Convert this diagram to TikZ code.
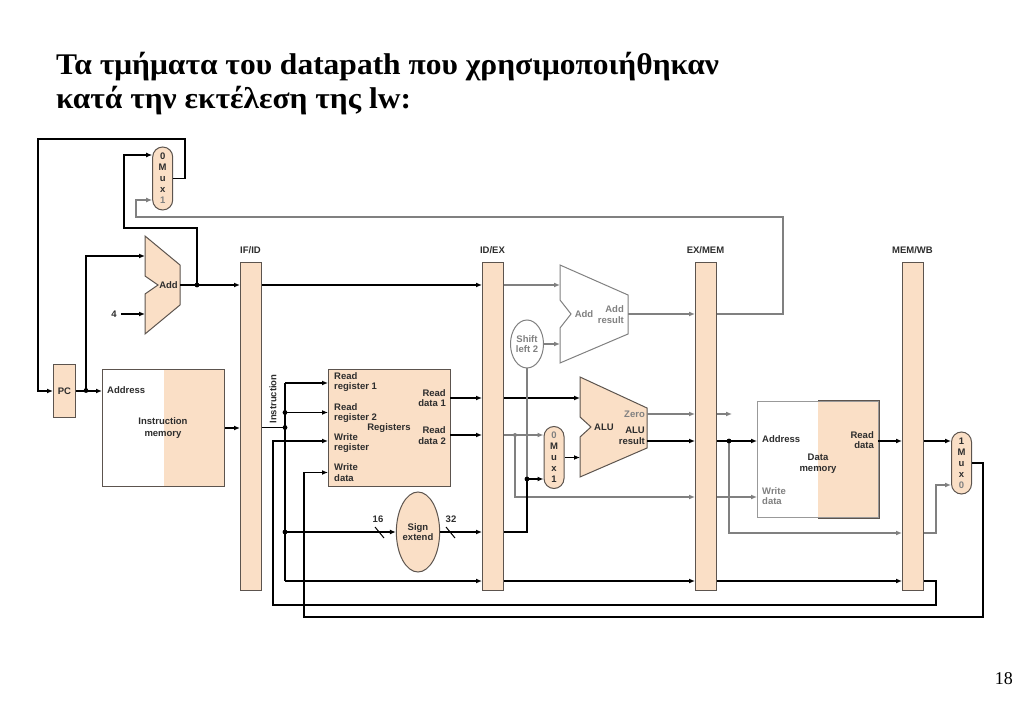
\documentclass[tikz,border=0pt]{standalone}
\usepackage{fontspec}
\setmainfont{Liberation Serif}
\newfontfamily\diagfont{Liberation Sans}
\usetikzlibrary{arrows.meta,shapes.geometric,calc}
\definecolor{peach}{RGB}{250,223,198}
\definecolor{edgec}{RGB}{92,84,78}
\definecolor{grayw}{RGB}{128,128,128}
\definecolor{txt}{RGB}{45,45,45}
\begin{document}
\begin{tikzpicture}[x=1pt,y=-1pt,
  font=\diagfont\bfseries\fontsize{9.5}{10.5}\selectfont,
  wire/.style={line width=1.8pt, black},
  gwire/.style={line width=1.4pt, grayw},
  arr/.style={-{Latex[length=6pt,width=5pt]}},
  lbl/.style={text=txt, inner sep=0pt},
  glbl/.style={text=grayw, inner sep=0pt},
  preg/.style={draw=edgec, fill=peach, line width=1pt, inner sep=0pt, anchor=north west, minimum width=21pt, minimum height=328pt},
  blk/.style={draw=edgec, fill=peach, line width=1pt, inner sep=0pt, text=txt},
  memblk/.style={draw=edgec, fill=white, line width=1pt, inner sep=0pt, anchor=north west,
    path picture={\fill[peach] (path picture bounding box.north) rectangle (path picture bounding box.south east);}},
  muxs/.style={draw=edgec, fill=peach, line width=1pt, rounded corners=10pt, minimum width=20pt, inner sep=0pt, align=center, text=txt, font=\diagfont\bfseries\fontsize{9.5}{11}\selectfont},
  titlef/.style={anchor=base west, inner sep=0pt, xscale=1.05, font=\rmfamily\bfseries\fontsize{30}{30}\selectfont},
  dot/.style={fill=black},
  gdot/.style={fill=grayw}
]
\useasboundingbox (0,0) rectangle (1023,708);

% ---------- title and page number ----------
\node[titlef] (t1) at (56,75) {Τα τμήματα του datapath που χρησιμοποιήθηκαν};
\node[titlef] (t2) at (56,108.5) {κατά την εκτέλεση της lw:};
\node[anchor=base east, inner sep=0pt, font=\rmfamily\fontsize{18}{18}\selectfont] (pg) at (1013,684) {18};

% ---------- pipeline registers ----------
\node[preg] (ifid) at (240,262) {};
\node[preg] (idex) at (482,262) {};
\node[preg] (exmem) at (695,262) {};
\node[preg] (memwb) at (902,262) {};
\node[lbl] (ifidl) at (250.5,250) {IF/ID};
\node[lbl] (idexl) at (492.5,250) {ID/EX};
\node[lbl] (exmeml) at (705.5,250) {EX/MEM};
\node[lbl] (memwbl) at (912.5,250) {MEM/WB};

% ---------- IF stage ----------
\node[blk, anchor=north west, minimum width=22pt, minimum height=53pt] (pc) at (53,364) {PC};
\node[memblk, minimum width=122pt, minimum height=117pt] (imem) at (102,369) {};
\node[lbl, anchor=west] (imaddr) at (107,390.5) {Address};
\node[lbl, align=center, font=\diagfont\bfseries\fontsize{9.5}{11.6}\selectfont] (imlab) at (163,428) {Instruction\\memory};

\node[muxs, minimum height=63pt] (pcmux) at (162.7,178.5) {0\\M\\u\\x\\\textcolor{grayw}{1}};

\draw[blk] (145,236) -- (180,265) -- (180,305) -- (145,334) -- (145,294) -- (158,285) -- (145,276) -- cycle;
\node[lbl] (addpc) at (168.5,285) {Add};
\coordinate (addpc-a) at (145,256);
\coordinate (addpc-b) at (145,314);
\coordinate (addpc-o) at (180,285);
\node[lbl] (four) at (114,314) {4};

% ---------- ID stage ----------
\node[blk, anchor=north west, minimum width=122pt, minimum height=117pt] (regs) at (328,369) {};
\node[lbl, anchor=west, align=left] (rr1l) at (334,382) {Read\\register 1};
\node[lbl, anchor=west, align=left] (rr2l) at (334,413) {Read\\register 2};
\node[lbl, anchor=west, align=left] (wrl) at (334,443) {Write\\register};
\node[lbl, anchor=west, align=left] (wdl) at (334,472.5) {Write\\data};
\node[lbl, anchor=east, align=right] (rd1l) at (446,398) {Read\\data 1};
\node[lbl, anchor=east, align=right] (rd2l) at (446,435.5) {Read\\data 2};
\node[lbl] (regsl) at (389,428) {Registers};
\node[lbl, rotate=90] (instrl) at (273,399) {Instruction};

\node[blk, ellipse, minimum width=40pt, minimum height=80pt, align=center] (sext) at (418,532) {Sign\\extend};
\node[lbl] (n16) at (378,519) {16};
\node[lbl] (n32) at (451,519) {32};

% ---------- EX stage ----------
\node[draw=grayw, fill=white, line width=1pt, ellipse, minimum width=33pt, minimum height=48pt, inner sep=0pt, align=center, text=grayw] (sl2) at (527,344) {Shift\\left 2};
\draw[draw=grayw, fill=white, line width=1pt] (560,265) -- (628,295) -- (628,334) -- (560,363) -- (560,328) -- (571,314) -- (560,300) -- cycle;
\node[glbl] (braddl) at (584,314) {Add};
\node[glbl, anchor=east, align=right] (brres) at (624,314.5) {Add\\result};
\coordinate (bra-a) at (560,285);
\coordinate (bra-b) at (560,344);
\coordinate (bra-o) at (628,314);

\node[muxs, minimum height=62pt] (alumux) at (554,457.5) {\textcolor{grayw}{0}\\M\\u\\x\\1};

\draw[blk] (580,377) -- (647,408) -- (647,448) -- (580,477) -- (580,437) -- (591,427) -- (580,417) -- cycle;
\node[lbl] (alul) at (604,427) {ALU};
\node[glbl, anchor=east] (zerol) at (645,414) {Zero};
\node[lbl, anchor=east, align=right] (alures) at (645,436) {ALU\\result};
\coordinate (alu-a) at (580,398);
\coordinate (alu-b) at (580,457.5);
\coordinate (alu-z) at (647,414);
\coordinate (alu-r) at (647,441);

% ---------- MEM stage ----------
\node[memblk, draw=grayw!80, minimum width=121pt, minimum height=116pt] (dmem) at (757,401) {};
\draw[edgec, line width=1pt] (dmem.north) -- (dmem.north east) -- (dmem.south east) -- (dmem.south);
\node[lbl, anchor=west] (dmaddr) at (762,439.5) {Address};
\node[lbl, anchor=east, align=right] (dmrdl) at (874,440) {Read\\data};
\node[lbl, align=center] (dml) at (818,463.5) {Data\\memory};
\node[glbl, anchor=west, align=left] (dmwd) at (762,496) {Write\\data};
\coordinate (dmrd) at (878,441);

% ---------- WB stage ----------
\node[muxs, minimum height=62pt] (wbmux) at (961.5,463) {1\\M\\u\\x\\\textcolor{grayw}{0}};

% ================= wires =================
% PC mux -> PC
\coordinate (c1) at (185,139);
\coordinate (c2) at (38,139);
\draw[wire,arr] (pcmux.east) -| (c1) -- (c2) |- (pc.west);
% PC -> instruction memory and adder
\coordinate (jpc) at (86,390.5);
\draw[wire,arr] (pc.east) -- (pc.east -| imem.west);
\draw[wire,arr] (jpc) |- (addpc-a);
\fill[dot] (jpc) circle (2.4pt);
\draw[wire,arr] ([xshift=4pt]four.east) -- (addpc-b);
% adder output
\coordinate (jadd) at (197,285);
\coordinate (c3) at (197,228);
\coordinate (c4) at (124,228);
\coordinate (c5) at (124,155);
\draw[wire,arr] (addpc-o) -- (addpc-o -| ifid.west);
\draw[wire,arr] (jadd) -- (c3) -- (c4) -- (c5) -- (c5 -| pcmux.west);
\fill[dot] (jadd) circle (2.4pt);
% branch target back to PC mux
\coordinate (c6) at (783,314);
\coordinate (c7) at (783,217);
\coordinate (c8) at (136,217);
\coordinate (c9) at (136,200);
\draw[gwire,arr] (exmem.east |- c6) -- (c6) -- (c7) -- (c8) -- (c9) -- (c9 -| pcmux.west);
% instruction memory -> IF/ID
\draw[wire,arr] (imem.east) -- (imem.east -| ifid.west);
% PC+4 -> ID/EX
\draw[wire,arr] (ifid.east |- jadd) -- (idex.west |- jadd);
% instruction distribution
\coordinate (jins) at (285,427.5);
\coordinate (rr1) at (285,383);
\coordinate (jrr2) at (285,412.5);
\coordinate (jse) at (285,532);
\coordinate (jbot) at (285,581);
\draw[wire] (ifid.east |- jins) -- (jins);
\draw[wire] (rr1) -- (jbot);
\draw[wire,arr] (rr1) -- (rr1 -| regs.west);
\draw[wire,arr] (jrr2) -- (jrr2 -| regs.west);
\draw[wire,arr] (jse) -- (sext.west);
\draw[wire,arr] (jbot) -- (jbot -| idex.west);
\fill[dot] (jrr2) circle (2.4pt);
\fill[dot] (jins) circle (2.4pt);
\fill[dot] (jse) circle (2.4pt);
% register outputs
\coordinate (rd1) at (450,398);
\coordinate (rd2) at (450,435);
\draw[wire,arr] (rd1) -- (rd1 -| idex.west);
\draw[wire,arr] (rd2) -- (rd2 -| idex.west);
% sign extend
\draw[wire,arr] (sext.east) -- (sext.east -| idex.west);
\draw[line width=1pt] (375,527) -- (384,538);
\draw[line width=1pt] (446,527) -- (455,538);
% write register path
\coordinate (c10) at (936,581);
\coordinate (c11) at (936,605);
\coordinate (c12) at (273,605);
\coordinate (c13) at (273,441);
\draw[wire,arr] (idex.east |- jbot) -- (exmem.west |- jbot);
\draw[wire,arr] (exmem.east |- jbot) -- (memwb.west |- jbot);
\draw[wire,arr] (memwb.east |- jbot) -- (c10) -- (c11) -- (c12) -- (c13) -- (c13 -| regs.west);
% write data path
\coordinate (c14) at (983,463);
\coordinate (c15) at (983,617);
\coordinate (c16) at (304,617);
\coordinate (c17) at (304,472.5);
\draw[wire,arr] (wbmux.east) -- (c14) -- (c15) -- (c16) -- (c17) -- (c17 -| regs.west);
% ID/EX -> branch adder
\draw[gwire,arr] (idex.east |- bra-a) -- (bra-a);
\draw[gwire,arr] (sl2.east) -- (bra-b);
\draw[gwire,arr] (bra-o) -- (bra-o -| exmem.west);
% read data 1 -> ALU
\draw[wire,arr] (idex.east |- alu-a) -- (alu-a);
% read data 2 -> mux and EX/MEM
\coordinate (jrd2) at (515,435);
\coordinate (c18) at (515,497);
\draw[gwire] (idex.east |- jrd2) -- (jrd2);
\draw[gwire,arr] (jrd2) -- (jrd2 -| alumux.west);
\draw[gwire,arr] (jrd2) -- (c18) -- (c18 -| exmem.west);
\fill[gdot] (jrd2) circle (2pt);
\draw[gwire,arr] (exmem.east |- c18) -- (c18 -| dmem.west);
% immediate -> mux and shift left 2
\coordinate (c19) at (527,532);
\coordinate (jimm) at (527,479);
\draw[gwire] (jimm) -- (sl2.south);
\draw[wire] (sext.east -| idex.east) -- (c19) -- (jimm);
\draw[wire,arr] (jimm) -- (jimm -| alumux.west);
\fill[dot] (jimm) circle (2.4pt);
% mux -> ALU
\draw[wire,arr] (alumux.east) -- (alu-b);
% ALU outputs
\coordinate (c20) at (732,414);
\draw[gwire,arr] (alu-z) -- (alu-z -| exmem.west);
\draw[gwire,arr] (exmem.east |- alu-z) -- (c20);
\coordinate (jres) at (729,441);
\coordinate (c21) at (729,533);
\draw[gwire,arr] (jres) -- (c21) -- (c21 -| memwb.west);
\draw[wire,arr] (alu-r) -- (alu-r -| exmem.west);
\draw[wire] (exmem.east |- alu-r) -- (jres);
\draw[wire,arr] (jres) -- (jres -| dmem.west);
\fill[dot] (jres) circle (2.4pt);
% memory -> MEM/WB -> mux
\draw[wire,arr] (dmrd) -- (dmrd -| memwb.west);
\draw[wire,arr] (memwb.east |- dmrd) -- (dmrd -| wbmux.west);
\coordinate (c22) at (936,533);
\coordinate (c23) at (936,485);
\draw[gwire,arr] (memwb.east |- c21) -- (c22) -- (c23) -- (c23 -| wbmux.west);
\end{tikzpicture}
\end{document}
